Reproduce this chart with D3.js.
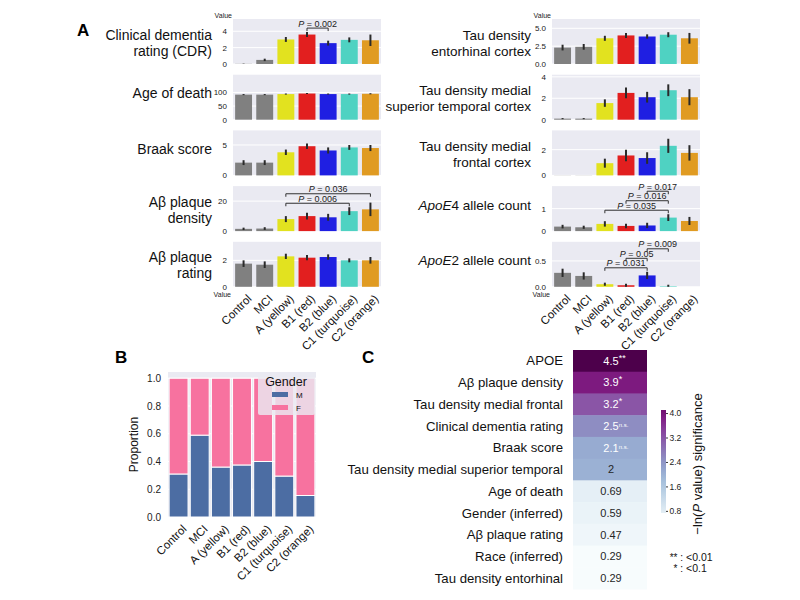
<!DOCTYPE html>
<html>
<head>
<meta charset="utf-8">
<script src="https://cdn.jsdelivr.net/npm/d3@7"></script>
<style>
body { margin: 0; background: #fff; }
svg { font-family: "Liberation Sans", Arial, sans-serif; }
</style>
</head>
<body>
<svg id="fig" width="800" height="600"></svg>
<script>
// ---- data ----
var groups = ["Control", "MCI", "A (yellow)", "B1 (red)", "B2 (blue)", "C1 (turquoise)", "C2 (orange)"];
var barColors = ["#808080", "#808080", "#E2E21F", "#E21F1F", "#1F1FE2", "#4FD2C2", "#E09B22"];

var cdrMean = [0.02, 0.5, 3.0, 3.6, 2.55, 2.95, 2.9];
var cdrErr = [0.02, 0.15, 0.3, 0.3, 0.3, 0.3, 0.7];
var ageMean = [92, 92, 94, 96, 94, 94, 95];
var ageErr = [2, 2, 2, 2, 2, 2, 2];
var braakMean = [2.1, 2.1, 3.8, 4.8, 4.1, 4.6, 4.5];
var braakErr = [0.4, 0.4, 0.45, 0.45, 0.5, 0.4, 0.5];
var densityMean = [1.5, 1.7, 8, 10, 9.2, 13.3, 14.5];
var densityErr = [0.8, 0.9, 2, 2.3, 2.3, 2.6, 4.5];
var ratingMean = [1.75, 1.67, 2.3, 2.2, 2.25, 2.0, 2.0];
var ratingErr = [0.25, 0.25, 0.2, 0.2, 0.2, 0.15, 0.25];
var entoMean = [2.3, 2.4, 3.6, 4.0, 3.85, 4.1, 3.6];
var entoErr = [0.4, 0.4, 0.35, 0.35, 0.3, 0.35, 0.75];
var mstMean = [0.1, 0.1, 1.55, 2.5, 2.1, 2.75, 2.1];
var mstErr = [0.05, 0.05, 0.35, 0.5, 0.5, 0.55, 0.75];
var mfMean = [0.01, 0.01, 0.95, 1.55, 1.35, 2.3, 1.75];
var mfErr = [0, 0, 0.35, 0.45, 0.45, 0.55, 0.6];
var apoe4Mean = [0.2, 0.17, 0.32, 0.23, 0.25, 0.6, 0.45];
var apoe4Err = [0.08, 0.07, 0.12, 0.1, 0.12, 0.15, 0.18];
var apoe2Mean = [0.27, 0.21, 0.05, 0.03, 0.22, 0.01, 0.0];
var apoe2Err = [0.08, 0.07, 0.03, 0.03, 0.07, 0.03, 0];

// significance brackets: [from group, to group, P value]
var cdrP = [[3, 4, "0.002"]];
var densityP = [[2, 5, "0.006"], [2, 6, "0.036"]];
var apoe4P = [[2, 5, "0.035"], [3, 5, "0.016"], [4, 5, "0.017"]];
var apoe2P = [[2, 4, "0.031"], [3, 4, "0.05"], [4, 5, "0.009"]];

// panel B
var maleProp = [0.31, 0.59, 0.36, 0.375, 0.40, 0.295, 0.155];
var femaleProp = [0.69, 0.41, 0.64, 0.625, 0.60, 0.705, 0.845];
var propTicks = [0, 0.2, 0.4, 0.6, 0.8, 1.0];

// panel C
var hmLabels = ["APOE", "A\u03b2 plaque density", "Tau density medial frontal", "Clinical dementia rating",
  "Braak score", "Tau density medial superior temporal", "Age of death", "Gender (inferred)",
  "A\u03b2 plaque rating", "Race (inferred)", "Tau density entorhinal"];
var hmValues = [4.5, 3.9, 3.2, 2.5, 2.1, 2, 0.69, 0.59, 0.47, 0.29, 0.29];
var hmSig = ["**", "*", "*", "n.s.", "n.s.", "", "", "", "", "", ""];
var cbarTicks = [0.8, 1.6, 2.4, 3.2, 4.0];

var svg = d3.select("#fig");

// ---- panel A ----
var panels = [
  { col: 0, row: 0, title: ["Clinical dementia", "rating (CDR)"], mean: cdrMean, err: cdrErr, ymax: 5.5, ticks: [0, 2, 4], fmt: "d", sig: cdrP },
  { col: 0, row: 1, title: ["Age of death"], mean: ageMean, err: ageErr, ymax: 165, ticks: [0, 50, 100], fmt: "d", sig: [] },
  { col: 0, row: 2, title: ["Braak score"], mean: braakMean, err: braakErr, ymax: 7.4, ticks: [0, 5], fmt: "d", sig: [] },
  { col: 0, row: 3, title: ["A\u03b2 plaque", "density"], mean: densityMean, err: densityErr, ymax: 30, ticks: [0, 20], fmt: "d", sig: densityP },
  { col: 0, row: 4, title: ["A\u03b2 plaque", "rating"], mean: ratingMean, err: ratingErr, ymax: 3.4, ticks: [0, 2], fmt: "d", sig: [] },
  { col: 1, row: 0, title: ["Tau density", "entorhinal cortex"], mean: entoMean, err: entoErr, ymax: 6.3, ticks: [0, 2.5, 5], fmt: ".1f", sig: [] },
  { col: 1, row: 1, title: ["Tau density medial", "superior temporal cortex"], mean: mstMean, err: mstErr, ymax: 4.2, ticks: [0, 2, 4], fmt: "d", sig: [] },
  { col: 1, row: 2, title: ["Tau density medial", "frontal cortex"], mean: mfMean, err: mfErr, ymax: 3.5, ticks: [0, 2], fmt: "d", sig: [] },
  { col: 1, row: 3, title: ["4 allele count"], italic: "ApoE", mean: apoe4Mean, err: apoe4Err, ymax: 2.0, ticks: [0, 1], fmt: "d", sig: apoe4P },
  { col: 1, row: 4, title: ["2 allele count"], italic: "ApoE", mean: apoe2Mean, err: apoe2Err, ymax: 0.87, ticks: [0, 0.5], fmt: ".1f", sig: apoe2P }
];

var colX = [233, 552], plotW = 148, plotH = 45;

svg.append("text").attr("x", 77).attr("y", 36).style("font-size", "17px").style("font-weight", "bold").text("A");

panels.forEach(function (p) {
  var x0 = colX[p.col];
  var top = 19 + p.row * 55.7;
  var bottom = top + plotH;
  var g = svg.append("g");

  var x = d3.scaleBand().domain(groups).range([x0, x0 + plotW]).paddingInner(0.2).paddingOuter(0.1);
  var y = d3.scaleLinear().domain([0, p.ymax]).range([bottom, top]);

  g.append("rect").attr("x", x0).attr("y", top).attr("width", plotW).attr("height", plotH).attr("fill", "#EAEAF2");

  g.selectAll(".grid").data(p.ticks).enter().append("line")
    .attr("x1", x0).attr("x2", x0 + plotW)
    .attr("y1", function (d) { return y(d); }).attr("y2", function (d) { return y(d); })
    .attr("stroke", "#fff").attr("stroke-width", 1);

  var yAxis = d3.axisLeft(y).tickValues(p.ticks).tickSize(0).tickPadding(6).tickFormat(d3.format(p.fmt));
  var ax = g.append("g").attr("transform", "translate(" + x0 + ",0)").call(yAxis);
  ax.select(".domain").remove();
  ax.selectAll("text").style("font-size", "8px").attr("fill", "#222").style("font-family", "Liberation Sans, Arial, sans-serif");

  g.selectAll(".bar").data(p.mean).enter().append("rect")
    .attr("x", function (d, i) { return x(groups[i]); })
    .attr("y", function (d) { return y(d); })
    .attr("width", x.bandwidth())
    .attr("height", function (d) { return y(0) - y(d); })
    .attr("fill", function (d, i) { return barColors[i]; });

  g.selectAll(".err").data(p.mean).enter().append("line")
    .attr("x1", function (d, i) { return x(groups[i]) + x.bandwidth() / 2; })
    .attr("x2", function (d, i) { return x(groups[i]) + x.bandwidth() / 2; })
    .attr("y1", function (d, i) { return y(Math.max(0, d - p.err[i])); })
    .attr("y2", function (d, i) { return y(d + p.err[i]); })
    .attr("stroke", "#2a2a2a").attr("stroke-width", 2);

  // brackets
  var prevY = null;
  p.sig.forEach(function (s) {
    var hi = 0;
    for (var k = s[0]; k <= s[1]; k++) hi = Math.max(hi, p.mean[k] + p.err[k]);
    var by = y(hi) - 4;
    if (prevY !== null) by = Math.min(by, prevY - 9.5);
    prevY = by;
    var xa = x(groups[s[0]]) + x.bandwidth() / 2, xb = x(groups[s[1]]) + x.bandwidth() / 2;
    g.append("path").attr("d", "M" + xa + "," + (by + 3) + "V" + by + "H" + xb + "V" + (by + 3))
      .attr("fill", "none").attr("stroke", "#333").attr("stroke-width", 1);
    var t = g.append("text").attr("x", (xa + xb) / 2).attr("y", by - 1.5).attr("text-anchor", "middle")
      .style("font-size", "9px").attr("fill", "#222");
    t.append("tspan").style("font-style", "italic").text("P");
    t.append("tspan").text(" = " + s[2]);
  });

  // title
  var mid = (top + bottom) / 2;
  var tx = p.col === 0 ? 212 : 531;
  var fs = p.col === 0 ? 14 : 13.5;
  p.title.forEach(function (line, li) {
    var yy = p.title.length === 1 ? mid + 1 : mid - 2 + li * 16;
    var t = g.append("text").attr("x", tx).attr("y", yy).attr("text-anchor", "end")
      .style("font-size", fs + "px").attr("fill", "#111");
    if (p.italic) t.append("tspan").style("font-style", "italic").text(p.italic);
    t.append("tspan").text(line);
  });

  if (p.row === 0) {
    g.append("text").attr("x", x0 - 1).attr("y", top - 1).attr("text-anchor", "end")
      .style("font-size", "7px").attr("fill", "#222").text("Value");
  }
  if (p.row === 4) {
    g.append("text").attr("x", x0 - 2).attr("y", bottom + 10).attr("text-anchor", "end")
      .style("font-size", "7px").attr("fill", "#222").text("Value");
    g.selectAll(".xl").data(groups).enter().append("text")
      .attr("transform", function (d) {
        return "translate(" + (x(d) + x.bandwidth() / 2 + 3) + "," + (bottom + 7) + ") rotate(-45)";
      })
      .attr("text-anchor", "end").attr("dy", "0.7em")
      .style("font-size", "11.5px").attr("fill", "#111").text(function (d) { return d; });
  }
});

// ---- panel B ----
(function () {
  var x0 = 168, x1 = 316, top = 372, bottom = 517;
  var g = svg.append("g");
  svg.append("text").attr("x", 115).attr("y", 363).style("font-size", "17px").style("font-weight", "bold").text("B");

  var x = d3.scaleBand().domain(groups).range([x0, x1]).paddingInner(0.2).paddingOuter(0.1);
  var y = d3.scaleLinear().domain([0, 1.045]).range([bottom, top]);

  g.append("rect").attr("x", x0).attr("y", top).attr("width", x1 - x0).attr("height", bottom - top).attr("fill", "#EAEAF2");
  g.selectAll(".grid").data(propTicks).enter().append("line")
    .attr("x1", x0).attr("x2", x1)
    .attr("y1", function (d) { return y(d); }).attr("y2", function (d) { return y(d); })
    .attr("stroke", "#fff");

  var ax = g.append("g").attr("transform", "translate(" + x0 + ",0)")
    .call(d3.axisLeft(y).tickValues(propTicks).tickSize(0).tickPadding(7).tickFormat(d3.format(".1f")));
  ax.select(".domain").remove();
  ax.selectAll("text").style("font-size", "10px").attr("fill", "#222").style("font-family", "Liberation Sans, Arial, sans-serif");

  var rows = groups.map(function (d, i) { return { group: d, M: maleProp[i], F: femaleProp[i] }; });
  var stack = d3.stack().keys(["M", "F"])(rows);
  var sexColors = { M: "#4C6DA3", F: "#F7729F" };

  g.selectAll(".layer").data(stack).enter().append("g")
    .attr("fill", function (d) { return sexColors[d.key]; })
    .selectAll("rect").data(function (d) { return d; }).enter().append("rect")
    .attr("x", function (d) { return x(d.data.group) - 1; })
    .attr("width", x.bandwidth() + 2)
    .attr("y", function (d) { return y(d[1]); })
    .attr("height", function (d) { return y(d[0]) - y(d[1]); })
    .attr("stroke", "#fff").attr("stroke-width", 1);

  g.append("text").attr("transform", "translate(138," + ((top + bottom) / 2) + ") rotate(-90)")
    .attr("text-anchor", "middle").style("font-size", "12px").attr("fill", "#111").text("Proportion");

  g.selectAll(".xl").data(groups).enter().append("text")
    .attr("transform", function (d) {
      return "translate(" + (x(d) + x.bandwidth() / 2 + 3) + "," + (bottom + 7) + ") rotate(-45)";
    })
    .attr("text-anchor", "end").attr("dy", "0.7em")
    .style("font-size", "11.5px").attr("fill", "#111").text(function (d) { return d; });

  // legend
  var lg = g.append("g");
  lg.append("rect").attr("x", 258).attr("y", 373).attr("width", 57).attr("height", 42).attr("rx", 2)
    .attr("fill", "#EAEAF2").attr("fill-opacity", 0.82);
  lg.append("text").attr("x", 286).attr("y", 386).attr("text-anchor", "middle")
    .style("font-size", "12.5px").attr("fill", "#111").text("Gender");
  ["M", "F"].forEach(function (k, i) {
    lg.append("rect").attr("x", 272).attr("y", 392 + i * 13).attr("width", 16).attr("height", 5).attr("fill", sexColors[k]);
    lg.append("text").attr("x", 296).attr("y", 398 + i * 13).style("font-size", "8px").attr("fill", "#111").text(k);
  });
})();

// ---- panel C ----
(function () {
  var x0 = 573, x1 = 647, top = 350, bottom = 589;
  var g = svg.append("g");
  svg.append("text").attr("x", 362).attr("y", 363).style("font-size", "17px").style("font-weight", "bold").text("C");

  var y = d3.scaleBand().domain(hmLabels).range([top, bottom]);
  var color = d3.scaleSequential(d3.interpolateBuPu).domain([0.29, 4.5]);

  g.selectAll(".cell").data(hmValues).enter().append("rect")
    .attr("x", x0).attr("width", x1 - x0)
    .attr("y", function (d, i) { return y(hmLabels[i]); })
    .attr("height", y.bandwidth() + 0.5)
    .attr("fill", function (d) { return color(d); });

  g.selectAll(".lab").data(hmLabels).enter().append("text")
    .attr("x", 563).attr("y", function (d) { return y(d) + y.bandwidth() / 2; })
    .attr("dy", "0.35em").attr("text-anchor", "end")
    .style("font-size", "13.2px").attr("fill", "#111").text(function (d) { return d; });

  hmValues.forEach(function (v, i) {
    var cy = y(hmLabels[i]) + y.bandwidth() / 2;
    var fill = v > 2.05 ? "#fff" : "#262626";
    var t = g.append("text").attr("y", cy).attr("dy", "0.35em").style("font-size", "11px").attr("fill", fill);
    t.append("tspan").text(String(v));
    var w = t.node().getComputedTextLength();
    t.attr("x", (x0 + x1) / 2 + 1 - w / 2);
    if (hmSig[i]) {
      t.append("tspan").attr("dy", "-0.45em").style("font-size", hmSig[i] === "n.s." ? "6px" : "9px").text(hmSig[i]);
    }
  });

  // colorbar
  var cbTop = 410, cbBottom = 513, cbX = 661, cbW = 5;
  var cy = d3.scaleLinear().domain([0.73, 4.1]).range([cbBottom, cbTop]);
  var grad = svg.append("defs").append("linearGradient").attr("id", "cbg")
    .attr("x1", 0).attr("y1", 1).attr("x2", 0).attr("y2", 0);
  d3.range(0, 1.0001, 0.1).forEach(function (t) {
    var v = cy.domain()[0] + t * (cy.domain()[1] - cy.domain()[0]);
    grad.append("stop").attr("offset", t).attr("stop-color", color(v));
  });
  g.append("rect").attr("x", cbX).attr("y", cbTop).attr("width", cbW).attr("height", cbBottom - cbTop).attr("fill", "url(#cbg)");
  var cax = g.append("g").attr("transform", "translate(" + (cbX + cbW) + ",0)")
    .call(d3.axisRight(cy).tickValues(cbarTicks).tickSize(2).tickPadding(1.5).tickFormat(d3.format(".1f")));
  cax.select(".domain").remove();
  cax.selectAll("line").attr("stroke", "#333");
  cax.selectAll("text").style("font-size", "8.5px").attr("fill", "#222").style("font-family", "Liberation Sans, Arial, sans-serif");

  var lt = g.append("text").attr("transform", "translate(702,464) rotate(-90)").attr("text-anchor", "middle")
    .style("font-size", "13px").attr("fill", "#111");
  lt.append("tspan").text("\u2212ln(");
  lt.append("tspan").style("font-style", "italic").text("P");
  lt.append("tspan").text(" value) significance");

  [["** :", "<0.01"], ["* :", "<0.1"]].forEach(function (r, i) {
    g.append("text").attr("x", 683).attr("y", 561 + i * 10.5).attr("text-anchor", "end")
      .style("font-size", "10px").attr("fill", "#111").text(r[0]);
    g.append("text").attr("x", 686).attr("y", 561 + i * 10.5)
      .style("font-size", "10.5px").attr("fill", "#111").text(r[1]);
  });
})();
</script>
</body>
</html>
